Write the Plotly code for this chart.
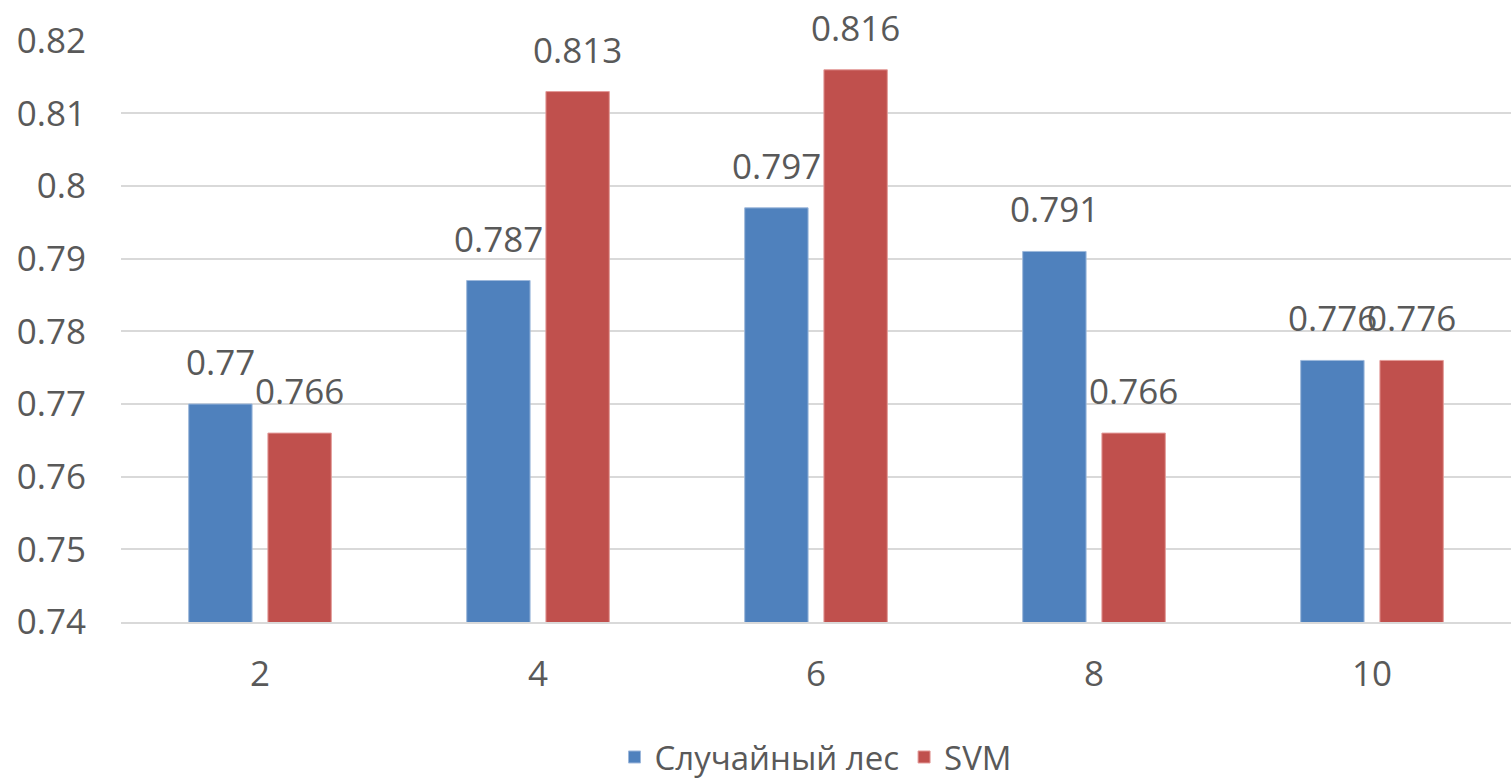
import plotly.graph_objects as go

categories = ["2", "4", "6", "8", "10"]
rf_values = [0.770, 0.787, 0.797, 0.791, 0.776]
svm_values = [0.766, 0.813, 0.816, 0.766, 0.776]
rf_labels = ["0.77", "0.787", "0.797", "0.791", "0.776"]
svm_labels = ["0.766", "0.813", "0.816", "0.766", "0.776"]
series_names = ["Случайный лес", "SVM"]
y_ticks = [0.74, 0.75, 0.76, 0.77, 0.78, 0.79, 0.8, 0.81, 0.82]

BLUE = "#4F81BD"
RED = "#C0504D"
TXT = "#595959"
FONT = "Open Sans"
FS = 35

fig = go.Figure()
fig.add_trace(go.Bar(x=categories, y=rf_values, name=series_names[0],
                     marker=dict(color=BLUE, line=dict(color="#9DB8DB", width=1)), base=0))
fig.add_trace(go.Bar(x=categories, y=svm_values, name=series_names[1],
                     marker=dict(color=RED, line=dict(color="#E39A98", width=1)), base=0))

# data labels as annotations above bars (x = category index)
W = 1511
ml, mr = 121, 0
cat_w = (W - ml - mr) / len(categories)
bargap = 0.43
bgg = 0.2
slot = cat_w * (1 - bargap) / 2
for vals, labs, sign in ((rf_values, rf_labels, -1), (svm_values, svm_labels, 1)):
    for i, (v, t) in enumerate(zip(vals, labs)):
        fig.add_annotation(x=i, y=v, text=t, showarrow=False, xref="x", yref="y",
                           xanchor="center", yanchor="bottom", yshift=17,
                           xshift=sign * slot / 2,
                           font=dict(family=FONT, size=FS, color=TXT))

fig.update_layout(
    width=W, height=779,
    margin=dict(l=ml, r=mr, t=40, b=157, autoexpand=False),
    plot_bgcolor="white", paper_bgcolor="white",
    barmode="group", bargap=bargap, bargroupgap=bgg,
    font=dict(family=FONT, size=FS, color=TXT),
    legend=dict(orientation="h", x=0.5, xanchor="center", y=-0.232, yanchor="middle",
                font=dict(family=FONT, size=33, color=TXT), itemwidth=30,
                traceorder="normal"),
    showlegend=True,
)
fig.update_yaxes(range=[0.74, 0.8201], tickvals=y_ticks,
                 ticktext=[f"{v:g}" for v in y_ticks],
                 showgrid=True, gridcolor="#D9D9D9", gridwidth=1.5,
                 zeroline=False, showline=False, ticks="", ticklabelstandoff=34,
                 tickfont=dict(family=FONT, size=FS, color=TXT))
fig.update_xaxes(type="category", showgrid=False, showline=True, linecolor="#D9D9D9",
                 linewidth=1.5, ticks="", ticklabelstandoff=20,
                 tickfont=dict(family=FONT, size=FS, color=TXT))

fig.write_html("out.html", config={"displayModeBar": False},
               post_script="document.body.style.margin='0';document.body.style.overflow='hidden';")
